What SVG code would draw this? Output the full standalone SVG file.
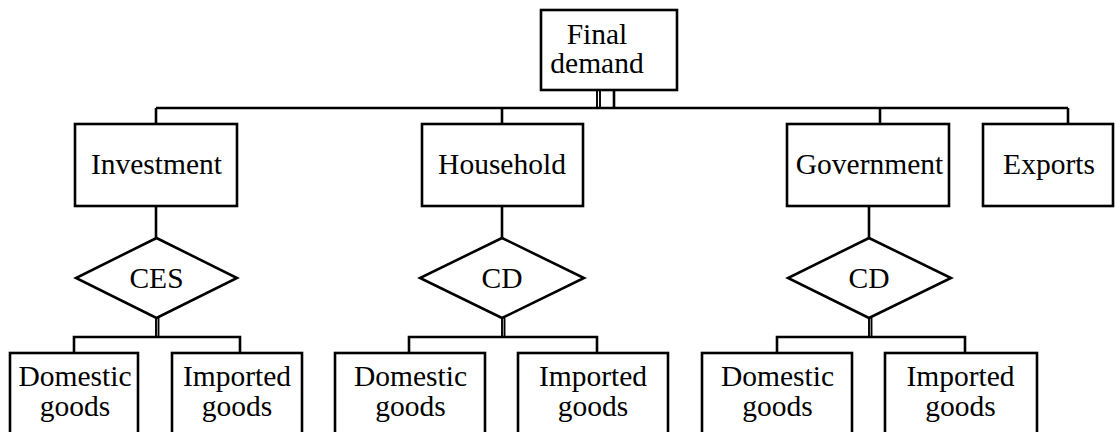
<svg xmlns="http://www.w3.org/2000/svg" width="1116" height="432" viewBox="0 0 1116 432">
  <style>
    .box { fill: #ffffff; stroke: #000000; stroke-width: 2.6; }
    .line { fill: none; stroke: #000000; stroke-width: 2.6; }
    .thin { fill: none; stroke: #000000; stroke-width: 1.9; }
    text { font-family: "Liberation Serif", "Times New Roman", serif; font-size: 29.5px; fill: #000000; text-anchor: middle; }
  </style>
  <rect width="1116" height="432" fill="#ffffff"/>

  <!-- connectors -->
  <g id="connectors">
    <!-- final demand to bus -->
    <line class="thin" x1="597" y1="90" x2="597" y2="108"/>
    <line class="thin" x1="600" y1="90" x2="600" y2="108"/>
    <line class="line" x1="614" y1="90" x2="614" y2="108"/>
    <!-- top bus -->
    <line class="line" x1="156" y1="108" x2="1068" y2="108"/>
    <line class="line" x1="156" y1="108" x2="156" y2="124"/>
    <line class="line" x1="502" y1="108" x2="502" y2="124"/>
    <line class="line" x1="880" y1="108" x2="880" y2="124"/>
    <line class="line" x1="1068" y1="108" x2="1068" y2="124"/>
    <!-- demand boxes to nests -->
    <line class="line" x1="156" y1="206" x2="156" y2="238"/>
    <line class="line" x1="502" y1="206" x2="502" y2="238"/>
    <line class="line" x1="869" y1="206" x2="869" y2="238"/>
    <!-- nests to goods -->
    <line class="thin" x1="156" y1="318" x2="156" y2="337"/>
    <line class="thin" x1="158.5" y1="318" x2="158.5" y2="337"/>
    <polyline class="line" points="74,353 74,337 240,337 240,353"/>
    <line class="thin" x1="502" y1="318" x2="502" y2="337"/>
    <line class="thin" x1="504.5" y1="318" x2="504.5" y2="337"/>
    <polyline class="line" points="409,353 409,337 597,337 597,353"/>
    <line class="thin" x1="869" y1="318" x2="869" y2="337"/>
    <line class="thin" x1="871.5" y1="318" x2="871.5" y2="337"/>
    <polyline class="line" points="777,353 777,337 965,337 965,353"/>
  </g>

  <g id="final-demand">
    <rect class="box" x="541" y="10" width="136" height="80"/>
    <text x="597" y="44">Final</text>
    <text x="597" y="73">demand</text>
  </g>

  <g id="investment">
    <rect class="box" x="75" y="124" width="162" height="82"/>
    <text x="156.5" y="174">Investment</text>
  </g>
  <g id="household">
    <rect class="box" x="422" y="124" width="161" height="82"/>
    <text x="502" y="174">Household</text>
  </g>
  <g id="government">
    <rect class="box" x="787" y="124" width="162" height="82"/>
    <text x="869.5" y="174">Government</text>
  </g>
  <g id="exports">
    <rect class="box" x="983" y="124" width="130" height="82"/>
    <text x="1049" y="174">Exports</text>
  </g>

  <g id="investment-ces">
    <polygon class="box" points="156.5,238 237,278 156.5,318 76,278"/>
    <text x="156.5" y="288">CES</text>
  </g>
  <g id="household-cd">
    <polygon class="box" points="502,238 584,278 502,318 420,278"/>
    <text x="502" y="288">CD</text>
  </g>
  <g id="government-cd">
    <polygon class="box" points="869,238 951,278 869,318 788,278"/>
    <text x="869" y="288">CD</text>
  </g>

  <g id="investment-domestic">
    <rect class="box" x="10" y="353" width="128" height="90"/>
    <text x="75" y="386">Domestic</text>
    <text x="75" y="416">goods</text>
  </g>
  <g id="investment-imported">
    <rect class="box" x="172" y="353" width="130" height="90"/>
    <text x="237" y="386">Imported</text>
    <text x="237" y="416">goods</text>
  </g>
  <g id="household-domestic">
    <rect class="box" x="335" y="353" width="150" height="90"/>
    <text x="410.5" y="386">Domestic</text>
    <text x="410.5" y="416">goods</text>
  </g>
  <g id="household-imported">
    <rect class="box" x="518" y="353" width="150" height="90"/>
    <text x="593" y="386">Imported</text>
    <text x="593" y="416">goods</text>
  </g>
  <g id="government-domestic">
    <rect class="box" x="702" y="353" width="150" height="90"/>
    <text x="777.5" y="386">Domestic</text>
    <text x="777.5" y="416">goods</text>
  </g>
  <g id="government-imported">
    <rect class="box" x="885" y="353" width="152" height="90"/>
    <text x="960.5" y="386">Imported</text>
    <text x="960.5" y="416">goods</text>
  </g>
</svg>
